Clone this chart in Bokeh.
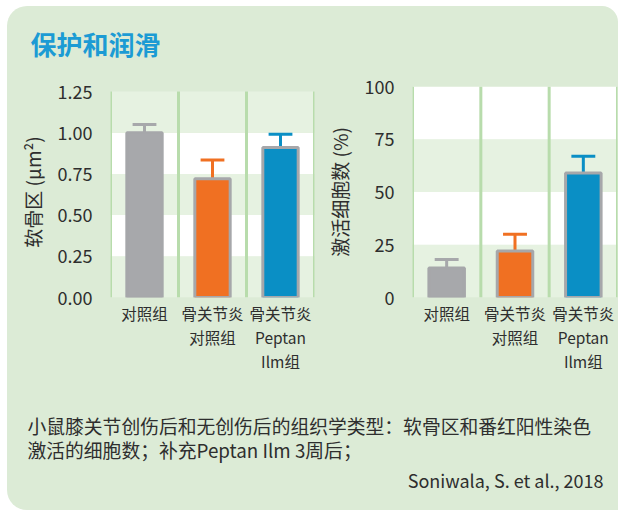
from bokeh.plotting import figure
from bokeh.layouts import column, row
from bokeh.models import Label, FixedTicker, Range1d, BoxAnnotation
from bokeh.embed import file_html
from bokeh.resources import INLINE

# ---------------- data ----------------
title_text = "保护和润滑"
categories = ["对照组", "骨关节炎\n对照组", "骨关节炎\nPeptan\nIlm组"]
bar_colors = ["#a7a8ab", "#f07022", "#0a8fc5"]

cart_label = "软骨区 (μm²)"
cart_values = [1.00, 0.72, 0.91]
cart_err = [0.05, 0.115, 0.08]
cart_ticks = [0.0, 0.25, 0.5, 0.75, 1.0, 1.25]
cart_tick_labels = ["0.00", "0.25", "0.50", "0.75", "1.00", "1.25"]

cell_label = "激活细胞数 (%)"
cell_values = [14, 22, 59]
cell_err = [4, 8, 8]
cell_ticks = [0, 25, 50, 75, 100]
cell_tick_labels = ["0", "25", "50", "75", "100"]

caption_lines = ["小鼠膝关节创伤后和无创伤后的组织学类型：软骨区和番红阳性染色",
                 "激活的细胞数；补充Peptan Ilm 3周后；"]
citation = "Soniwala, S. et al., 2018"

# ---------------- style ----------------
FONT = "Noto Sans CJK SC"
BOX_GREEN = "#dcebd6"
BAND_GREEN = "#e6f2e1"
SEP_GREEN = "#b8dcac"
TEXT = "#2e2e2e"
OUTLINE = "#a6a7aa"


def make_chart(values, errs, ticks, tick_labels, ylabel, width, height,
               b_left, b_right, b_top, b_bottom, top_pad, label_standoff):
    n = len(categories)
    frame_h = height - b_top - b_bottom
    # extend the range slightly so the top tick sits `top_pad` px below the frame top
    y_end = ticks[0] + (ticks[-1] - ticks[0]) * frame_h / (frame_h - top_pad)
    p = figure(width=width, height=height, output_backend="svg", toolbar_location=None,
               x_range=Range1d(0, n), y_range=Range1d(ticks[0], y_end),
               min_border_left=b_left, min_border_right=b_right,
               min_border_top=b_top, min_border_bottom=b_bottom)
    p.border_fill_alpha = 0
    p.background_fill_alpha = 0
    p.outline_line_color = None
    p.grid.grid_line_color = None

    # alternating bands between ticks
    for i in range(len(ticks) - 1):
        p.add_layout(BoxAnnotation(bottom=ticks[i], top=ticks[i + 1],
                                   fill_color=BAND_GREEN if i % 2 == 0 else "white",
                                   fill_alpha=1, line_color=None, level="underlay"))
    seps = list(range(n + 1))
    p.segment(x0=seps, y0=[ticks[0]] * len(seps), x1=seps, y1=[ticks[-1]] * len(seps),
              line_color=SEP_GREEN, line_width=3)

    xs = [i + 0.5 for i in range(n)]
    tops = [v + e for v, e in zip(values, errs)]
    cap = 0.175
    p.segment(x0=xs, y0=values, x1=xs, y1=tops, line_color=bar_colors, line_width=3)
    p.segment(x0=[x - cap for x in xs], y0=tops, x1=[x + cap for x in xs], y1=tops,
              line_color=bar_colors, line_width=3)
    p.vbar(x=xs, top=values, bottom=0, width=0.52, fill_color=bar_colors,
           line_color=OUTLINE, line_width=3)

    ya = p.yaxis[0]
    ya.ticker = FixedTicker(ticks=ticks)
    ya.major_label_overrides = {t: l for t, l in zip(ticks, tick_labels)}
    ya.axis_line_color = None
    ya.major_tick_line_color = None
    ya.minor_tick_line_color = None
    ya.major_label_standoff = 12
    ya.major_label_text_font = FONT
    ya.major_label_text_font_size = "18px"
    ya.major_label_text_color = TEXT
    ya.axis_label = ylabel
    ya.axis_label_text_font = FONT
    ya.axis_label_text_font_size = "19px"
    ya.axis_label_text_font_style = "normal"
    ya.axis_label_text_color = TEXT
    ya.axis_label_standoff = label_standoff

    xa = p.xaxis[0]
    xa.ticker = FixedTicker(ticks=xs)
    xa.major_label_overrides = {x: c for x, c in zip(xs, categories)}
    xa.axis_line_color = None
    xa.major_tick_line_color = None
    xa.minor_tick_line_color = None
    xa.major_label_standoff = -2
    xa.major_label_text_font = FONT
    xa.major_label_text_font_size = "15.5px"
    xa.major_label_text_color = TEXT
    xa.major_label_text_line_height = 1.1
    return p


p_left = make_chart(cart_values, cart_err, cart_ticks, cart_tick_labels, cart_label,
                    313, 340, 103, 6, 18, 111, 5, 9)
p_right = make_chart(cell_values, cell_err, cell_ticks, cell_tick_labels, cell_label,
                     298, 340, 92, 1, 18, 111, 0, 9)


def text_panel(w, h):
    p = figure(width=w, height=h, output_backend="svg", toolbar_location=None,
               x_range=Range1d(0, w), y_range=Range1d(0, h), min_border=0)
    p.axis.visible = False
    p.grid.grid_line_color = None
    p.outline_line_color = None
    p.border_fill_alpha = 0
    p.background_fill_alpha = 0
    return p


header = text_panel(611, 62)
header.add_layout(Label(x=23, y=25, text=title_text, text_font=FONT, text_font_size="26px",
                        text_font_style="bold", text_color="#1c9bd4", text_baseline="middle"))

footer = text_panel(611, 102)
for i, line in enumerate(caption_lines):
    footer.add_layout(Label(x=20, y=85 - 24 * i, text=line, text_font=FONT,
                            text_font_size="18.8px", text_color=TEXT, text_baseline="middle"))
footer.add_layout(Label(x=596, y=31, text=citation, text_font=FONT, text_font_size="18px",
                        text_color=TEXT, text_baseline="middle", text_align="right"))

layout = column(header, row(p_left, p_right), footer,
                styles={"background-color": BOX_GREEN, "border-radius": "20px 16px 0 20px",
                        "margin-left": "7px", "margin-top": "6px"})

open("out.html", "w").write(file_html(layout, INLINE))
